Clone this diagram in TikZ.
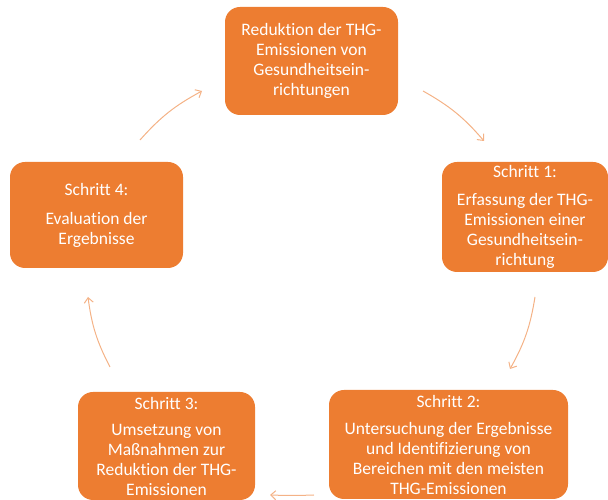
\documentclass[tikz,border=0pt]{standalone}
\usepackage{fontspec}
\setmainfont{Carlito}[Ligatures=NoCommon]
\usepackage{xcolor}
\usetikzlibrary{calc, arrows, arrows.meta, positioning}
\definecolor{boxorange}{RGB}{237,125,49}
\definecolor{arroworange}{RGB}{244,178,134}
\tikzset{
    stepbox/.style={
            rectangle, rounded corners=15pt, fill=boxorange, draw=none,
            text=white, align=center, inner sep=0pt,
            font=\fontsize{17.5}{20}\selectfont
        },
    cyclearrow/.style={
            draw=arroworange, line width=1pt,
            -{Straight Barb[length=5pt, width=9pt]}, bend left=10
        }
}

\begin{document}
\begin{tikzpicture}[x=1pt, y=1pt]
        \useasboundingbox (0,0) rectangle (608,500);
        \node[stepbox, minimum width=173pt, minimum height=108pt] (goal) at (311.5,439)
            {Reduktion der THG-\\Emissionen von\\Gesundheitsein-\\richtungen};
        \node[stepbox, minimum width=166pt, minimum height=110pt] (step1) at (525,283)
            {Schritt 1:\\[8pt]Erfassung der THG-\\Emissionen einer\\Gesundheitsein-\\richtung};
        \node[stepbox, minimum width=239pt, minimum height=109pt] (step2) at (448.5,55.5)
            {Schritt 2:\\[7pt]Untersuchung der Ergebnisse\\und Identifizierung von\\Bereichen mit den meisten\\THG-Emissionen};
        \node[stepbox, minimum width=177pt, minimum height=108pt] (step3) at (166.5,54)
            {Schritt 3:\\[6pt]Umsetzung von\\Maßnahmen zur\\Reduktion der THG-\\Emissionen};
        \node[stepbox, minimum width=173pt, minimum height=106pt] (step4) at (96.5,285)
            {Schritt 4:\\[9pt]Evaluation der\\Ergebnisse};

        \coordinate (a0) at (423,409);
        \coordinate (a1) at (484,359);
        \coordinate (b0) at (535,203);
        \coordinate (b1) at (510,131);
        \coordinate (c0) at (314,5);
        \coordinate (c1) at (270,5);
        \coordinate (d0) at (110,133);
        \coordinate (d1) at (88,203);
        \coordinate (e0) at (140,360);
        \coordinate (e1) at (202,409);

        \draw[cyclearrow] (a0) to (a1);
        \draw[cyclearrow] (b0) to (b1);
        \draw[cyclearrow, bend left=2] (c0) to (c1);
        \draw[cyclearrow] (d0) to (d1);
        \draw[cyclearrow] (e0) to (e1);
    \end{tikzpicture}
\end{document}
